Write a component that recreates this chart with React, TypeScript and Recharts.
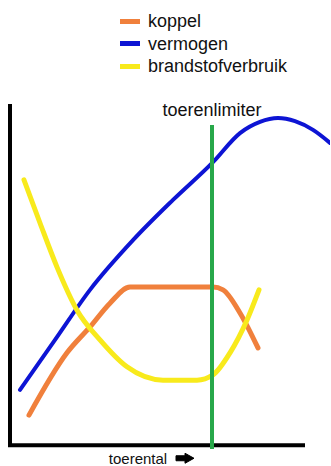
import { LineChart, Line, XAxis, YAxis, ReferenceLine } from "recharts"

// toerental (rpm) and relative values
const koppelRpm = [475, 1425, 2000, 2500, 3000, 5075, 5325, 5750, 6200]
const koppel = [9.1, 26.9, 34.3, 41.1, 45.7, 45.7, 44.9, 38.3, 28.3]

const vermogenRpm = [250, 1125, 2000, 3075, 4075, 5075, 5750, 6250, 6700, 7125, 7575, 8000]
const vermogen = [16.3, 30.6, 44.9, 59.1, 70.6, 81.4, 89.7, 92.9, 94.0, 93.1, 90.6, 86.9]

const verbruikRpm = [350, 750, 1175, 1675, 2250, 2925, 3825, 4675, 5075, 5500, 5925, 6225]
const verbruik = [76.3, 64, 51.4, 39.1, 30.6, 22.9, 19.1, 19.1, 20.6, 26.9, 36.3, 44.9]

const limiterRpm = 5050
const limiterTop = 92
const axisTop = 98
const axisEnd = 7325

const legendItems = [
  { name: "koppel", color: "#f0803c" },
  { name: "vermogen", color: "#0d14d4" },
  { name: "brandstofverbruik", color: "#f8ea1c" },
]

const toPoints = (xs: number[], ys: number[]) => xs.map((x, i) => ({ rpm: x, v: ys[i] }))

const font = "'Liberation Sans', Arial, sans-serif"

const LegendBox = () => (
  <div
    style={{
      position: "absolute",
      left: 120,
      top: 10,
      fontFamily: font,
      fontSize: 18,
      lineHeight: "22.5px",
      color: "#111",
    }}
  >
    {legendItems.map((it) => (
      <div key={it.name} style={{ display: "flex", alignItems: "center" }}>
        <span style={{ display: "inline-block", width: 20, height: 5, background: it.color, marginRight: 8 }} />
        <span>{it.name}</span>
      </div>
    ))}
  </div>
)

const AxisLabel = (props: any) => {
  const { viewBox } = props
  const x = viewBox.x + 128
  const y = viewBox.y + 13
  return (
    <g>
      <text x={x} y={y} textAnchor="middle" dominantBaseline="central" fontFamily={font} fontSize={15} fill="#111">
        toerental
      </text>
      <path
        d={`M${x + 38} ${y - 2.5} L${x + 47} ${y - 2.5} L${x + 47} ${y - 5} L${x + 56} ${y} L${x + 47} ${y + 5} L${x + 47} ${y + 2.5} L${x + 38} ${y + 2.5} Z`}
        fill="#000"
        stroke="#000"
        strokeWidth={1}
        strokeLinejoin="round"
      />
    </g>
  )
}

export default function App() {
  return (
    <div style={{ position: "absolute", left: 0, top: 0, width: 331, height: 466, background: "#fff" }}>
      <LineChart width={331} height={466} margin={{ top: 97, right: 1, bottom: 19, left: 10 }}>
        <XAxis type="number" dataKey="rpm" domain={[0, 8000]} hide allowDataOverflow />
        <YAxis type="number" domain={[0, 100]} hide allowDataOverflow />
        <ReferenceLine
          segment={[{ x: 0, y: 0 }, { x: 0, y: axisTop }]}
          stroke="#000"
          strokeWidth={4}
          ifOverflow="visible"
        />
        <ReferenceLine
          segment={[{ x: 0, y: 0.5 }, { x: axisEnd, y: 0.5 }]}
          stroke="#000"
          strokeWidth={4}
          strokeLinecap="square"
          ifOverflow="visible"
          label={<AxisLabel />}
        />
        <Line
          data={toPoints(vermogenRpm, vermogen)}
          dataKey="v"
          type="monotone"
          stroke="#0d14d4"
          strokeWidth={4}
          strokeLinecap="round"
          dot={false}
          isAnimationActive={false}
        />
        <Line
          data={toPoints(koppelRpm, koppel)}
          dataKey="v"
          type="monotone"
          stroke="#f0803c"
          strokeWidth={5}
          strokeLinecap="round"
          dot={false}
          isAnimationActive={false}
        />
        <Line
          data={toPoints(verbruikRpm, verbruik)}
          dataKey="v"
          type="monotone"
          stroke="#f8ea1c"
          strokeWidth={5}
          strokeLinecap="round"
          dot={false}
          isAnimationActive={false}
        />
        <ReferenceLine
          segment={[{ x: limiterRpm, y: -0.6 }, { x: limiterRpm, y: limiterTop }]}
          stroke="#28a84a"
          strokeWidth={4}
          ifOverflow="visible"
          label={{ value: "toerenlimiter", position: "top", offset: 9, fill: "#111", fontSize: 18, fontFamily: font }}
        />
      </LineChart>
      <LegendBox />
    </div>
  )
}
